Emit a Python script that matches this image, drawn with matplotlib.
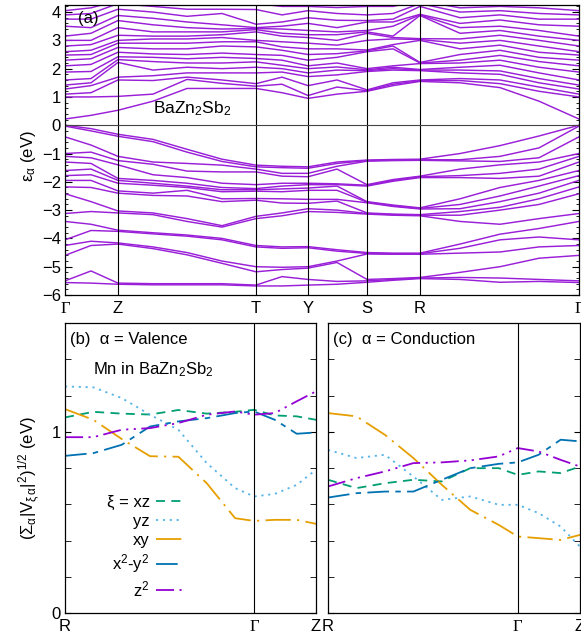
import numpy as np
import matplotlib
matplotlib.use("Agg")
import matplotlib.pyplot as plt
from matplotlib.ticker import MultipleLocator, FixedLocator

plt.rcParams['font.family'] = ['Liberation Sans', 'DejaVu Sans']
plt.rcParams['mathtext.default'] = 'regular'
plt.rcParams['axes.linewidth'] = 0.9

# ---------------- band structure along Γ-Z-T-Y-S-R-Γ ----------------
k_path = [0, 26, 53, 88, 122, 157, 191, 217, 243, 272, 302, 328, 355, 395, 435, 474, 514]
k_sym_pos = [0, 53, 191, 243, 302, 355, 514]
k_sym_labels = ['Γ', 'Z', 'T', 'Y', 'S', 'R', 'Γ']

# valence levels (eV) at each k point, highest first
valence = [
    [0.00, -0.03, -0.41, -1.00, -1.10, -1.30, -1.60, -1.78, -1.95, -2.18, -2.42, -3.12, -3.40, -4.05, -4.25, -4.60, -5.50, -5.56],
    [-0.12, -0.20, -0.70, -0.95, -1.15, -1.35, -1.55, -1.75, -1.95, -2.20, -2.70, -3.05, -3.50, -3.72, -4.10, -4.25, -5.15, -5.58],
    [-0.32, -0.39, -1.10, -1.25, -1.40, -1.88, -1.95, -2.05, -2.32, -2.40, -3.03, -3.10, -3.71, -3.75, -4.16, -4.20, -5.58, -5.62],
    [-0.50, -0.58, -1.30, -1.38, -1.75, -1.95, -2.05, -2.12, -2.40, -2.48, -3.10, -3.16, -3.80, -3.84, -4.30, -4.36, -5.60, -5.64],
    [-0.85, -0.95, -1.35, -1.62, -1.85, -2.05, -2.15, -2.20, -2.30, -2.50, -3.30, -3.40, -3.88, -3.92, -4.50, -4.58, -5.60, -5.64],
    [-1.20, -1.28, -1.41, -1.65, -2.05, -2.20, -2.28, -2.35, -2.60, -2.70, -3.55, -3.60, -4.00, -4.05, -4.80, -4.88, -5.60, -5.64],
    [-1.41, -1.47, -1.55, -1.65, -2.10, -2.24, -2.28, -2.33, -2.59, -2.65, -3.22, -3.30, -4.25, -4.30, -5.00, -5.18, -5.65, -5.68],
    [-1.45, -1.50, -1.70, -1.80, -2.05, -2.15, -2.25, -2.35, -2.60, -2.75, -3.10, -3.20, -4.30, -4.35, -5.02, -5.10, -5.35, -5.68],
    [-1.47, -1.52, -1.70, -1.82, -2.05, -2.10, -2.22, -2.30, -2.62, -2.76, -2.95, -3.05, -4.29, -4.33, -5.00, -5.05, -5.45, -5.65],
    [-1.30, -1.35, -1.45, -1.55, -2.07, -2.10, -2.15, -2.30, -2.62, -2.68, -3.00, -3.08, -4.40, -4.45, -4.80, -4.85, -5.52, -5.62],
    [-1.23, -1.25, -1.27, -2.10, -2.12, -2.15, -2.70, -2.72, -2.74, -3.10, -3.12, -3.14, -4.50, -4.53, -4.55, -5.45, -5.50, -5.55],
    [-1.21, -1.23, -1.25, -1.92, -1.95, -1.98, -2.82, -2.85, -2.87, -3.14, -3.16, -3.18, -4.52, -4.54, -4.56, -5.42, -5.45, -5.48],
    [-1.20, -1.22, -1.24, -1.80, -1.82, -1.85, -2.92, -2.94, -2.96, -3.16, -3.18, -3.20, -4.52, -4.54, -4.56, -5.38, -5.40, -5.42],
    [-1.00, -1.22, -1.26, -1.55, -1.78, -1.85, -2.60, -2.80, -2.95, -3.05, -3.18, -3.40, -4.20, -4.35, -4.52, -5.20, -5.38, -5.45],
    [-0.72, -1.10, -1.28, -1.40, -1.70, -1.88, -2.20, -2.50, -2.70, -2.90, -3.00, -3.50, -3.85, -4.05, -4.48, -5.00, -5.40, -5.55],
    [-0.38, -0.80, -1.15, -1.30, -1.55, -1.80, -1.95, -2.15, -2.40, -2.60, -2.80, -3.30, -3.65, -3.95, -4.30, -4.70, -5.45, -5.52],
    [0.00, -0.03, -0.41, -1.00, -1.10, -1.30, -1.60, -1.78, -1.95, -2.18, -2.42, -3.12, -3.40, -4.05, -4.25, -4.60, -5.50, -5.56],
]

# conduction levels (eV) at each k point, lowest first
conduction = [
    [0.22, 1.00, 1.10, 1.28, 1.42, 1.60, 1.88, 2.10, 2.30, 2.48, 2.60, 2.80, 3.00, 3.15, 3.50, 3.75, 3.90, 4.05],
    [0.35, 1.00, 1.15, 1.40, 1.50, 1.65, 1.90, 2.15, 2.35, 2.50, 2.65, 2.85, 3.00, 3.25, 3.45, 3.75, 3.95, 4.15],
    [0.53, 1.02, 1.60, 1.70, 2.22, 2.32, 2.42, 2.58, 2.75, 2.90, 3.00, 3.18, 3.45, 3.70, 3.88, 4.10, 4.30, 4.40],
    [0.85, 1.10, 1.58, 1.75, 1.95, 2.25, 2.40, 2.52, 2.70, 2.90, 3.05, 3.15, 3.30, 3.55, 3.78, 4.00, 4.20, 4.35],
    [1.30, 1.62, 1.70, 1.85, 2.05, 2.20, 2.35, 2.50, 2.70, 2.90, 3.05, 3.15, 3.30, 3.45, 3.65, 3.85, 4.10, 4.30],
    [1.30, 1.48, 1.60, 1.85, 2.00, 2.20, 2.40, 2.55, 2.80, 2.95, 3.10, 3.20, 3.30, 3.40, 3.55, 3.95, 4.10, 4.30],
    [1.30, 1.38, 1.47, 1.85, 2.05, 2.24, 2.36, 2.50, 2.77, 2.95, 3.00, 3.30, 3.38, 3.42, 3.45, 3.57, 4.09, 4.30],
    [1.15, 1.45, 1.70, 1.88, 2.00, 2.12, 2.30, 2.47, 2.65, 2.77, 2.95, 3.15, 3.25, 3.40, 3.50, 3.65, 3.90, 4.20],
    [0.95, 1.05, 1.40, 1.72, 1.85, 2.00, 2.10, 2.30, 2.50, 2.70, 2.90, 3.10, 3.20, 3.35, 3.60, 3.80, 4.05, 4.20],
    [1.10, 1.35, 1.60, 1.78, 1.95, 2.06, 2.20, 2.40, 2.53, 2.70, 2.83, 3.00, 3.20, 3.30, 3.45, 3.71, 3.95, 4.16],
    [1.20, 1.22, 1.25, 1.90, 1.93, 1.96, 2.00, 2.60, 2.63, 2.66, 3.00, 3.25, 3.30, 3.35, 3.65, 3.70, 3.90, 4.20],
    [1.40, 1.45, 1.50, 1.95, 2.00, 2.05, 2.10, 2.70, 2.80, 2.85, 3.05, 3.10, 3.15, 3.50, 3.65, 3.75, 3.95, 4.20],
    [1.55, 1.57, 1.60, 1.93, 1.95, 1.97, 2.18, 2.20, 2.22, 3.00, 3.03, 3.06, 3.88, 3.90, 3.92, 4.20, 4.30, 4.40],
    [1.50, 1.58, 1.65, 1.85, 1.95, 2.05, 2.20, 2.30, 2.50, 2.70, 2.90, 3.05, 3.25, 3.45, 3.60, 3.80, 4.00, 4.15],
    [1.33, 1.47, 1.60, 1.80, 1.92, 2.12, 2.30, 2.47, 2.65, 2.83, 3.00, 3.18, 3.35, 3.50, 3.72, 3.90, 4.05, 4.20],
    [0.85, 1.20, 1.35, 1.50, 1.65, 1.85, 2.05, 2.25, 2.40, 2.58, 2.80, 3.00, 3.15, 3.35, 3.55, 3.75, 3.95, 4.15],
    [0.22, 1.00, 1.10, 1.28, 1.42, 1.60, 1.88, 2.10, 2.30, 2.48, 2.60, 2.80, 3.00, 3.15, 3.50, 3.75, 3.90, 4.05],
]

# ---------------- hybridization along R-Γ-Z ----------------
t_path = [0.0, 0.15, 0.30, 0.45, 0.60, 0.75, 0.90, 1.00, 1.11, 1.226, 1.328]
hyb_sym_pos = [0.0, 1.0, 1.328]
hyb_sym_labels = ['R', 'Γ', 'Z']

orbital_labels = ['ξ = xz', 'yz', 'xy', 'x$^2$-y$^2$', 'z$^2$']

val_xz = [1.079, 1.110, 1.100, 1.095, 1.120, 1.100, 1.110, 1.121, 1.090, 1.085, 1.066]
val_yz = [1.250, 1.245, 1.186, 1.094, 1.011, 0.827, 0.689, 0.643, 0.657, 0.707, 0.790]
val_xy = [1.125, 1.066, 0.960, 0.865, 0.862, 0.716, 0.523, 0.508, 0.514, 0.514, 0.492]
val_x2y2 = [0.867, 0.882, 0.928, 1.029, 1.057, 1.075, 1.103, 1.112, 1.066, 0.989, 0.996]
val_z2 = [0.970, 0.970, 1.011, 1.020, 1.048, 1.094, 1.112, 1.094, 1.103, 1.168, 1.223]

con_xz = [0.735, 0.689, 0.716, 0.735, 0.726, 0.799, 0.799, 0.762, 0.781, 0.772, 0.808]
con_yz = [0.900, 0.855, 0.873, 0.753, 0.624, 0.643, 0.597, 0.597, 0.551, 0.477, 0.366]
con_xy = [1.103, 1.085, 0.983, 0.855, 0.707, 0.569, 0.486, 0.422, 0.413, 0.403, 0.431]
con_x2y2 = [0.637, 0.661, 0.670, 0.670, 0.735, 0.799, 0.823, 0.831, 0.873, 0.956, 0.947]
con_z2 = [0.698, 0.744, 0.781, 0.827, 0.831, 0.842, 0.864, 0.910, 0.891, 0.845, 0.808]

orbital_colors = ['#009e73', '#56b4e9', '#e69f00', '#0072b2', '#9400d3']
orbital_dashes = [(5, 3.5), (1.2, 2.6), (14, 3.5, 1.2, 3.5), (12, 3.5, 3, 3.5),
                  (10, 3, 1.2, 3, 1.2, 3)]

BAND_COLOR = '#9a1fd8'
FS = 12

W, H = 581, 643
fig = plt.figure(figsize=(W / 100, H / 100), dpi=100)


def frac_box(x0, y0, x1, y1):
    return [x0 / W, 1 - y1 / H, (x1 - x0) / W, (y1 - y0) / H]


def serif_gamma(labels):
    for lbl in labels:
        if lbl.get_text() == 'Γ':
            lbl.set_fontfamily(['Liberation Serif', 'DejaVu Serif'])


# ---- panel (a) ----
ax = fig.add_axes(frac_box(65, 5, 579, 295))
kp = np.array(k_path, dtype=float)
val = np.array(valence)
con = np.array(conduction)
for i in range(val.shape[1]):
    ax.plot(kp, val[:, i], color=BAND_COLOR, lw=1.05, solid_joinstyle='round')
for i in range(con.shape[1]):
    ax.plot(kp, con[:, i], color=BAND_COLOR, lw=1.05, solid_joinstyle='round')
for p in k_sym_pos[1:-1]:
    ax.axvline(p, color='black', lw=0.8)
ax.axhline(0, color='#444444', lw=0.8)
ax.set_xlim(k_sym_pos[0], k_sym_pos[-1])
ax.set_ylim(-6, 4.25)
ax.set_xticks(k_sym_pos, k_sym_labels, fontsize=FS)
serif_gamma(ax.get_xticklabels())
ax.tick_params(axis='x', length=0, pad=4)
ax.yaxis.set_major_locator(MultipleLocator(1))
ax.yaxis.set_minor_locator(MultipleLocator(0.2))
ax.tick_params(axis='y', which='both', direction='in', left=True, right=True, labelsize=FS, pad=3)
ax.tick_params(axis='y', which='major', length=5)
ax.tick_params(axis='y', which='minor', length=2.5)
ax.set_ylabel('ε$_α$ (eV)', fontsize=FS)
ax.yaxis.set_label_coords(-0.053, 0.48)
ax.text(0.026, 0.978, '(a)', transform=ax.transAxes, fontsize=FS, ha='left', va='top')
ax.text(0.171, 0.628, 'BaZn$_2$Sb$_2$', transform=ax.transAxes, fontsize=FS + 0.5,
        ha='left', va='baseline')


# ---- panels (b) and (c) ----
def hyb_panel(box, series, title, ylabels):
    axh = fig.add_axes(box)
    tp = np.array(t_path)
    handles = []
    for vals, c, d, lab in zip(series, orbital_colors, orbital_dashes, orbital_labels):
        ln, = axh.plot(tp, vals, color=c, lw=1.3, dashes=d, label=lab)
        handles.append(ln)
    axh.axvline(hyb_sym_pos[1], color='black', lw=0.8)
    axh.set_xlim(hyb_sym_pos[0], hyb_sym_pos[-1])
    axh.set_ylim(0, 1.6)
    axh.set_xticks(hyb_sym_pos, hyb_sym_labels, fontsize=FS)
    serif_gamma(axh.get_xticklabels())
    axh.tick_params(axis='x', length=0, pad=4)
    axh.yaxis.set_major_locator(FixedLocator([0, 1]))
    axh.yaxis.set_minor_locator(FixedLocator([0.2, 0.4, 0.6, 0.8, 1.2, 1.4]))
    axh.tick_params(axis='y', which='both', direction='in', left=True, right=True,
                    length=4, labelsize=FS, pad=3, labelleft=ylabels)
    axh.text(0.02, 0.968, title, transform=axh.transAxes, fontsize=FS, ha='left', va='top')
    return axh, handles


ax_b, hb = hyb_panel(frac_box(65, 323, 316, 613),
                     [val_xz, val_yz, val_xy, val_x2y2, val_z2],
                     '(b)  α = Valence', True)
ax_b.set_ylabel('(Σ$_α$|V$_{ξ\\,α}$|$^2$)$^{1/2}$ (eV)', fontsize=FS)
ax_b.yaxis.set_label_coords(-0.092, 0.466)
ax_b.text(0.112, 0.872, 'Mn in BaZn$_2$Sb$_2$', transform=ax_b.transAxes, fontsize=FS,
          ha='left', va='top')
ax_b.legend(handles=hb, loc='upper right', bbox_to_anchor=(0.47, 0.408), frameon=False,
            markerfirst=False, fontsize=FS, handlelength=1.6, handletextpad=0.4,
            labelspacing=0.25, borderpad=0, borderaxespad=0)

ax_c, _ = hyb_panel(frac_box(328, 323, 580, 613),
                    [con_xz, con_yz, con_xy, con_x2y2, con_z2],
                    '(c)  α = Conduction', False)

fig.savefig('out.png', dpi=100)
